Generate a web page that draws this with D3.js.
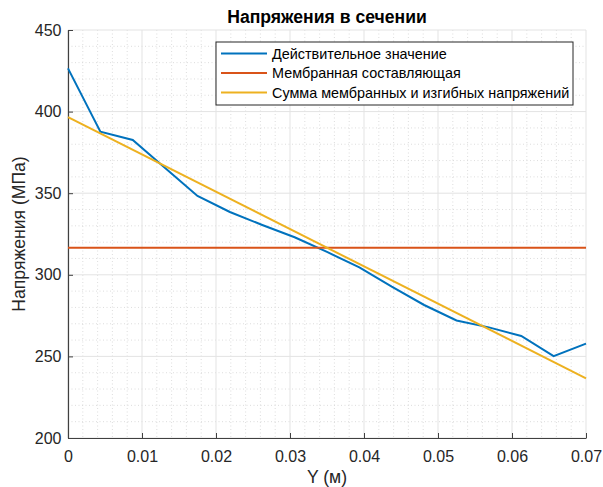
<!DOCTYPE html>
<html>
<head>
<meta charset="utf-8">
<script src="https://cdn.jsdelivr.net/npm/d3@7"></script>
<style>
body { margin: 0; background: #fff; }
svg { font-family: "Liberation Sans", Arial, sans-serif; }
</style>
</head>
<body>
<div id="chart"></div>
<script>
// data
var yCoord = [0, 0.004375, 0.00875, 0.013125, 0.0175, 0.021875, 0.02625, 0.030625, 0.035,
              0.039375, 0.04375, 0.048125, 0.0525, 0.056875, 0.06125, 0.065625, 0.07];
var actual = [426.5, 387.7, 382.6, 365.5, 348.3, 338.5, 330.5, 323, 314,
              304.5, 292.7, 281.5, 272, 267.8, 262.5, 250.2, 257.8];
var membrane = [316.6, 316.6];
var membraneBending = [396.6, 236.6];
var lineX = [0, 0.07];
var xTicks = [0, 0.01, 0.02, 0.03, 0.04, 0.05, 0.06, 0.07];
var yTicks = [200, 250, 300, 350, 400, 450];
var legendNames = ["Действительное значение", "Мембранная составляющая", "Сумма мембранных и изгибных напряжений"];
var colors = ["#0072BD", "#D95319", "#EDB120"];

var W = 603, H = 487;
var margin = {top: 30, right: 17, bottom: 49, left: 68};
var width = W - margin.left - margin.right,
    height = H - margin.top - margin.bottom;

var svg = d3.select("#chart").append("svg")
    .attr("width", W).attr("height", H);
var g = svg.append("g")
    .attr("transform", "translate(" + margin.left + "," + margin.top + ")");

var xScale = d3.scaleLinear().domain([0, 0.07]).range([0, width]);
var yScale = d3.scaleLinear().domain([200, 450]).range([height, 0]);

// minor grid
var xMinor = d3.range(0, 0.0701, 0.002).filter(function(d) { return Math.abs(d / 0.01 - Math.round(d / 0.01)) > 1e-6; });
var yMinor = d3.range(200, 451, 10).filter(function(d) { return d % 50 != 0; });
g.selectAll(".xminor").data(xMinor).enter().append("line")
    .attr("x1", function(d) { return xScale(d); }).attr("x2", function(d) { return xScale(d); })
    .attr("y1", 0).attr("y2", height)
    .attr("stroke", "#d4d4d4").attr("stroke-width", 0.8).attr("stroke-dasharray", "1,2.5");
g.selectAll(".yminor").data(yMinor).enter().append("line")
    .attr("y1", function(d) { return yScale(d); }).attr("y2", function(d) { return yScale(d); })
    .attr("x1", 0).attr("x2", width)
    .attr("stroke", "#d4d4d4").attr("stroke-width", 0.8).attr("stroke-dasharray", "1,2.5");

// major grid
g.selectAll(".xmajor").data(xTicks).enter().append("line")
    .attr("x1", function(d) { return xScale(d); }).attr("x2", function(d) { return xScale(d); })
    .attr("y1", 0).attr("y2", height)
    .attr("stroke", "#e3e3e3").attr("stroke-width", 1);
g.selectAll(".ymajor").data(yTicks).enter().append("line")
    .attr("y1", function(d) { return yScale(d); }).attr("y2", function(d) { return yScale(d); })
    .attr("x1", 0).attr("x2", width)
    .attr("stroke", "#e3e3e3").attr("stroke-width", 1);

// axes
var xAxis = g.append("g")
    .attr("transform", "translate(0," + height + ")")
    .call(d3.axisBottom(xScale).tickValues(xTicks).tickSizeInner(-5).tickSizeOuter(0).tickPadding(12.5)
        .tickFormat(function(d) { return d === 0 ? "0" : d3.format(".2f")(d); }));
var yAxis = g.append("g")
    .call(d3.axisLeft(yScale).tickValues(yTicks).tickSizeInner(-5).tickSizeOuter(0).tickPadding(6.5));
[xAxis, yAxis].forEach(function(a) {
    a.select(".domain").attr("stroke", "#404040").attr("stroke-width", 1.2);
    a.selectAll(".tick line").attr("stroke", "#404040");
    a.selectAll(".tick text").attr("fill", "#262626").style("font-size", "16px");
});

// lines
var lineGen = d3.line()
    .x(function(d) { return xScale(d[0]); })
    .y(function(d) { return yScale(d[1]); });
var series = [
    d3.zip(yCoord, actual),
    d3.zip(lineX, membrane),
    d3.zip(lineX, membraneBending)
];
// draw order: actual, membrane, sum
series.forEach(function(s, i) {
    g.append("path")
        .datum(s)
        .attr("d", lineGen)
        .attr("fill", "none")
        .attr("stroke", colors[i])
        .attr("stroke-width", 2);
});

// title and labels
svg.append("text")
    .attr("x", margin.left + width / 2).attr("y", 23)
    .attr("text-anchor", "middle")
    .style("font-size", "17.6px").style("font-weight", "bold")
    .attr("fill", "#000")
    .text("Напряжения в сечении");
svg.append("text")
    .attr("x", margin.left + width / 2).attr("y", 483)
    .attr("text-anchor", "middle")
    .style("font-size", "17.6px").attr("fill", "#262626")
    .text("Y (м)");
svg.append("text")
    .attr("transform", "translate(25," + (margin.top + height / 2) + ") rotate(-90)")
    .attr("text-anchor", "middle")
    .style("font-size", "17.6px").attr("fill", "#262626")
    .text("Напряжения (МПа)");

// legend
var legend = svg.append("g").attr("transform", "translate(216,42)");
legend.append("rect")
    .attr("width", 357).attr("height", 63)
    .attr("fill", "#fff").attr("stroke", "#262626").attr("stroke-width", 1);
legendNames.forEach(function(name, i) {
    var yy = 11.5 + i * 19.5;
    legend.append("line")
        .attr("x1", 5).attr("x2", 51).attr("y1", yy).attr("y2", yy)
        .attr("stroke", colors[i]).attr("stroke-width", 2);
    legend.append("text")
        .attr("x", 56).attr("y", yy + 5)
        .style("font-size", "14.4px").attr("fill", "#000")
        .text(name);
});
</script>
</body>
</html>
